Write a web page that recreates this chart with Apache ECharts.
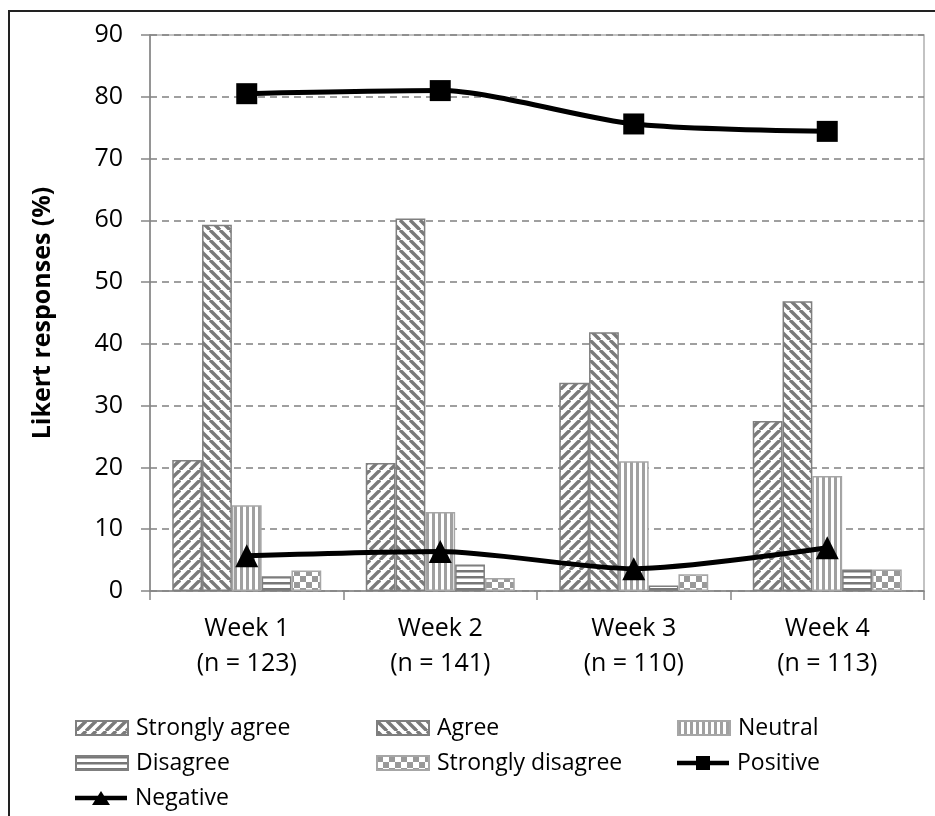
<!DOCTYPE html>
<html>
<head>
<meta charset="utf-8">
<script src="https://cdn.jsdelivr.net/npm/echarts@6/dist/echarts.min.js"></script>
<style>html,body{margin:0;padding:0;background:#fff}#c{width:935px;height:816px}</style>
</head>
<body>
<div id="c"></div>
<script>
const categories = ['Week 1\n(n = 123)', 'Week 2\n(n = 141)', 'Week 3\n(n = 110)', 'Week 4\n(n = 113)'];
const stronglyAgree = [21.2, 20.7, 33.7, 27.5];
const agree = [59.3, 60.3, 41.9, 46.9];
const neutral = [13.9, 12.8, 21.0, 18.6];
const disagree = [2.4, 4.3, 0.9, 3.5];
const stronglyDisagree = [3.3, 2.1, 2.7, 3.5];
const positive = [80.5, 81.0, 75.6, 74.4];
const negative = [5.7, 6.4, 3.6, 7.0];
const yTicks = {min: 0, max: 90, interval: 10};

const FONT = 'Open Sans';

function mk(w, h, draw) {
  const c = document.createElement('canvas');
  c.width = w; c.height = h;
  const g = c.getContext('2d');
  g.fillStyle = '#ffffff'; g.fillRect(0, 0, w, h);
  draw(g);
  return {image: c, repeat: 'repeat'};
}
const T = 10;
const patUp = mk(T, T, g => {
  g.strokeStyle = '#7a7a7a'; g.lineWidth = 3.4;
  for (const k of [-T, 0, T]) { g.beginPath(); g.moveTo(k, T); g.lineTo(k + T, 0); g.stroke(); }
});
const patDown = mk(T, T, g => {
  g.strokeStyle = '#7a7a7a'; g.lineWidth = 3.4;
  for (const k of [-T, 0, T]) { g.beginPath(); g.moveTo(k, 0); g.lineTo(k + T, T); g.stroke(); }
});
const patVert = mk(6, 6, g => { g.fillStyle = '#a0a0a0'; g.fillRect(0, 0, 3, 6); });
const patHoriz = mk(6, 6, g => { g.fillStyle = '#767676'; g.fillRect(0, 0, 6, 2.5); });
const patCheck = mk(12, 12, g => { g.fillStyle = '#999999'; g.fillRect(0, 0, 6, 6); g.fillRect(6, 6, 6, 6); });

function barSeries(name, data, pat, border) {
  return {
    name, type: 'bar', data, barGap: '0%', barCategoryGap: '23%',
    itemStyle: {color: pat, borderColor: border, borderWidth: 1.5},
    emphasis: {disabled: true}
  };
}

const ICON_POS = 'path://M0,4.8H52V9.2H0Z M19,0H33V14H19Z';
const ICON_NEG = 'path://M0,4.8H52V9.2H0Z M26,0L35,14H17Z';

function leg(name, left, cy, icon) {
  return {
    data: [{name, icon: icon || 'rect'}], left, top: cy - 14, padding: 0, itemGap: 0,
    itemWidth: 52, itemHeight: 14,
    textStyle: {fontFamily: FONT, fontSize: 23, color: '#000', lineHeight: 28, padding: [0, 0, 0, 3]},
    selectedMode: false
  };
}

const chart = echarts.init(document.getElementById('c'), null, {renderer: 'canvas'});
chart.setOption({
  animation: false,
  backgroundColor: '#fff',
  graphic: [{
    type: 'rect', shape: {x: 9, y: 11, width: 960, height: 840},
    style: {fill: 'none', stroke: '#222', lineWidth: 2}, z: 100, silent: true
  }],
  grid: {left: 150, right: 11, top: 35, bottom: 225, show: true, borderColor: '#b0b0b0', borderWidth: 1.5, backgroundColor: 'transparent'},
  xAxis: {
    type: 'category', data: categories,
    axisLine: {lineStyle: {color: '#868686', width: 1.5}},
    axisTick: {show: true, length: 9, lineStyle: {color: '#868686', width: 1.5}},
    axisLabel: {fontFamily: FONT, fontSize: 25, color: '#000', lineHeight: 35, margin: 20}
  },
  yAxis: {
    type: 'value', min: yTicks.min, max: yTicks.max, interval: yTicks.interval,
    name: 'Likert responses (%)', nameLocation: 'middle', nameRotate: 90, nameGap: 95,
    nameTextStyle: {fontFamily: FONT, fontSize: 25, fontWeight: 'bold', color: '#000'},
    axisLine: {show: true, lineStyle: {color: '#868686', width: 1.5}},
    axisTick: {show: true, length: 9, lineStyle: {color: '#868686', width: 1.5}},
    axisLabel: {fontFamily: FONT, fontSize: 25, color: '#000', margin: 27},
    splitLine: {show: true, lineStyle: {color: '#808080', width: 1.5, type: [7, 5]}}
  },
  legend: [
    leg('Strongly agree', 75, 728),
    leg('Agree', 376, 728),
    leg('Neutral', 677, 728),
    leg('Disagree', 75, 763),
    leg('Strongly disagree', 376, 763),
    leg('Positive', 677, 763, ICON_POS),
    leg('Negative', 75, 798, ICON_NEG)
  ],
  series: [
    barSeries('Strongly agree', stronglyAgree, patUp, '#7f7f7f'),
    barSeries('Agree', agree, patDown, '#7f7f7f'),
    barSeries('Neutral', neutral, patVert, '#a6a6a6'),
    barSeries('Disagree', disagree, patHoriz, '#7f7f7f'),
    barSeries('Strongly disagree', stronglyDisagree, patCheck, '#a6a6a6'),
    {
      name: 'Positive', type: 'line', data: positive, smooth: 0.25,
      symbol: 'rect', symbolSize: 21,
      lineStyle: {color: '#000', width: 5}, itemStyle: {color: '#000'}, z: 5,
      emphasis: {disabled: true}
    },
    {
      name: 'Negative', type: 'line', data: negative, smooth: 0.25,
      symbol: 'triangle', symbolSize: 23,
      lineStyle: {color: '#000', width: 5}, itemStyle: {color: '#000'}, z: 5,
      emphasis: {disabled: true}
    }
  ]
});
</script>
</body>
</html>
